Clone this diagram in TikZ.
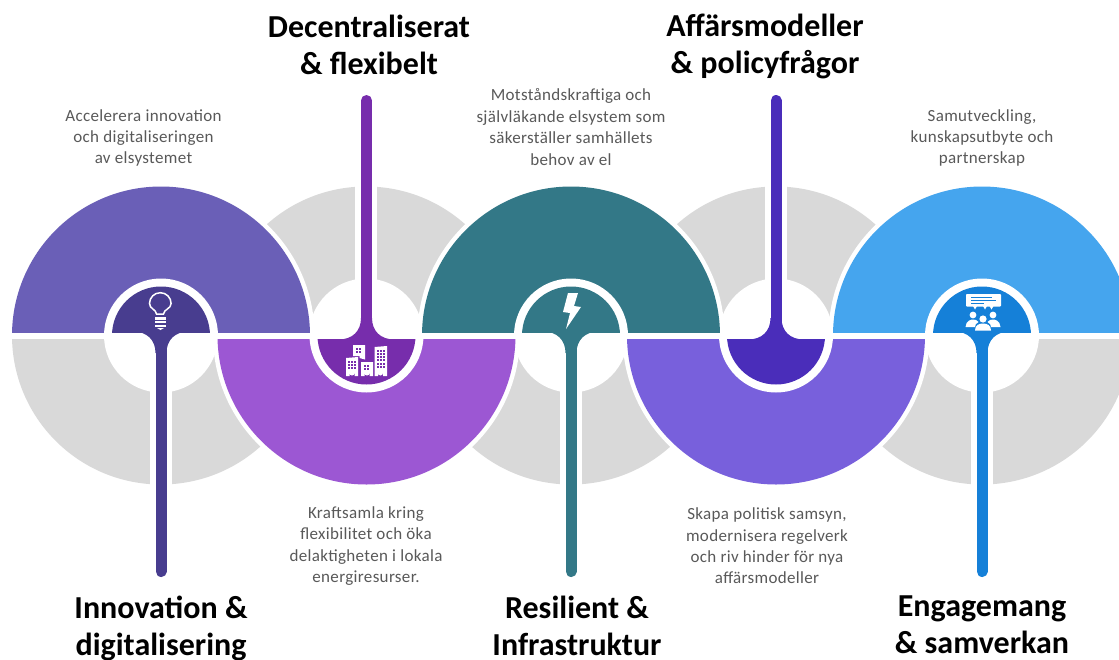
\documentclass[tikz,border=0pt]{standalone}
\usepackage{fontspec}
\setmainfont{Carlito}
\newfontfamily\descfont[LetterSpace=2]{Carlito}
\definecolor{grayband}{HTML}{D9D9D9}
\definecolor{aring}{HTML}{6A5FB7}\definecolor{adark}{HTML}{483D8F}
\definecolor{bring}{HTML}{9C57D3}\definecolor{bdark}{HTML}{772DAC}
\definecolor{cring}{HTML}{337887}\definecolor{cdark}{HTML}{337887}
\definecolor{dring}{HTML}{7860DC}\definecolor{ddark}{HTML}{4A2DBA}
\definecolor{ering}{HTML}{45A5EE}\definecolor{edark}{HTML}{1580D8}
\definecolor{bodytext}{HTML}{595959}
\tikzset{
  titletext/.style={font=\fontsize{32}{37}\selectfont\bfseries,text=black,align=center,inner sep=0pt},
  desctext/.style={font=\descfont\fontsize{17}{21.4}\selectfont,text=bodytext,align=center,inner sep=0pt},
  iconfill/.style={fill=white,draw=none}
}
\newcommand{\lowgray}[1]{%
  \begin{scope}\clip (#1-170,339) rectangle (#1+170,700);
    \fill[grayband] (#1,335.5) circle[radius=149];
    \fill[white] (#1,335.5) circle[radius=57];
  \end{scope}
  \fill[white] (#1-11,380) rectangle (#1+11,600);}
\newcommand{\upgray}[1]{%
  \begin{scope}\clip (#1-170,332) rectangle (#1+170,0);
    \fill[grayband] (#1,335.5) circle[radius=149];
    \fill[white] (#1,335.5) circle[radius=57];
  \end{scope}
  \fill[white] (#1-11,290) rectangle (#1+11,80);}
\newcommand{\upunit}[4]{%
  \begin{scope}\clip (#1-170,332) rectangle (#1+170,0);
    \fill[white] (#1,335.5) circle[radius=153.5];
    \fill[#2] (#1,335.5) circle[radius=149];
    \fill[white] (#1,335.5) circle[radius=57];
    \fill[#3] (#1,335.5) circle[radius=49];
  \end{scope}
  \fill[#3] (#1-28,331.5) .. controls (#1-14,331.5) and (#1-5.5,340) .. (#1-5.5,353)
     -- (#1+5.5,353) .. controls (#1+5.5,340) and (#1+14,331.5) .. (#1+28,331.5) -- cycle;
  \draw[#3,line width=11,line cap=round] (#1,350) -- (#1,#4-5.5);}
\newcommand{\downunit}[4]{%
  \begin{scope}\clip (#1-170,339) rectangle (#1+170,700);
    \fill[white] (#1,335.5) circle[radius=153.5];
    \fill[#2] (#1,335.5) circle[radius=149];
    \fill[white] (#1,335.5) circle[radius=57];
    \fill[#3] (#1,335.5) circle[radius=49];
  \end{scope}
  \fill[#3] (#1-28,339.5) .. controls (#1-14,339.5) and (#1-5.5,331) .. (#1-5.5,318)
     -- (#1+5.5,318) .. controls (#1+5.5,331) and (#1+14,339.5) .. (#1+28,339.5) -- cycle;
  \draw[#3,line width=11,line cap=round] (#1,321) -- (#1,#4+5.5);}
\newcommand{\windows}[5]{%
  \foreach \ci in {1,...,#3}{\foreach \ri in {1,...,#4}{
    \fill[#5] ({#1+(\ci-1)*3.1},{#2+(\ri-1)*3.3}) rectangle ++(2,2);}}}
\begin{document}
\begin{tikzpicture}[x=1pt,y=-1pt]
\useasboundingbox (0,0) rectangle (1119,659);
\fill[white] (0,0) rectangle (1119,659);
\clip (0,0) rectangle (1119,659);

\upgray{366}\upgray{776}
\lowgray{161}\lowgray{571}\lowgray{982}

\upunit{161}{aring}{adark}{577}
\downunit{366.5}{bring}{bdark}{95}
\upunit{571}{cring}{cdark}{577}
\downunit{776}{dring}{ddark}{95}
\upunit{982}{ering}{edark}{577}

% bulb
\draw[white,line width=1.5] (156.5,314) .. controls (156,309) and (149.5,309) .. (149.5,303.5)
  arc[start angle=180,end angle=0,x radius=10.8,y radius=-10.8] .. controls (171,309) and (164,309) .. (163.5,314) -- cycle;
\fill[iconfill] (154.5,317.3) rectangle (166,319.5);
\fill[iconfill] (154.5,321) rectangle (166,323.2);
\fill[iconfill] (154.5,324.7) rectangle (166,326.5);
\fill[iconfill] (157,328) -- (164,328) -- (160.5,330) -- cycle;

% buildings
\fill[iconfill] (346,358) -- (358,357) -- (358,376) -- (354.5,376) -- (354.5,373) arc[start angle=0,end angle=180,radius=2.5] -- (349.5,376) -- (346,376) -- cycle;
\fill[iconfill] (353,345) -- (365,345) -- (365,359.5) -- (359.5,358) -- (359.5,356) -- (353,356) -- cycle;
\fill[iconfill] (361,362) -- (373,362) -- (373,376) -- (369.5,376) -- (369.5,373) arc[start angle=0,end angle=180,radius=2.5] -- (364.5,376) -- (361,376) -- cycle;
\fill[iconfill] (374.5,347) -- (387,346) -- (387,376) -- (383,376) -- (383,373) arc[start angle=0,end angle=180,radius=2.5] -- (378,376) -- (374.5,376) -- cycle;
\windows{348}{360.5}{3}{3}{bdark}
\windows{356}{347.5}{2}{2}{bdark}
\windows{363.5}{364.5}{2}{2}{bdark}
\windows{377}{349.5}{3}{6}{bdark}

% lightning
\fill[iconfill] (568,293) -- (578,293) -- (574,306) -- (581,307) -- (566,329) -- (570,313) -- (563,312) -- cycle;

% speech box and people
\fill[iconfill,rounded corners=0.8] (966,294) rectangle (1001,306.5);
\foreach \tx in {975,985,991.5}{\fill[iconfill] (\tx-2,306) -- (\tx+2,306) -- (\tx,309.5) -- cycle;}
\draw[edark,line width=0.8] (971,297.5) -- (992,297.5) (971,300.5) -- (996,300.5) (971,303.5) -- (984,303.5);
\fill[iconfill] (973,315) circle[radius=3.4] (993,315) circle[radius=3.4] (983,319) circle[radius=3.6];
\fill[iconfill] (965.5,327) .. controls (966,320.5) and (971,319.5) .. (973,319.5) .. controls (975,319.5) and (977,320) .. (978.5,322) .. controls (976,323) and (975,325) .. (975,327) -- cycle;
\fill[iconfill] (1000.5,327) .. controls (1000,320.5) and (995,319.5) .. (993,319.5) .. controls (991,319.5) and (989,320) .. (987.5,322) .. controls (990,323) and (991,325) .. (991,327) -- cycle;
\fill[iconfill] (975,330.5) .. controls (975,325) and (979,323.5) .. (983,323.5) .. controls (987,323.5) and (991,325) .. (991,330.5) -- cycle;

% titles
\node[titletext] (t1) at (161,628) {Innovation \&\\digitalisering};
\node[titletext] (t2) at (369,45) {Decentraliserat\\\& flexibelt};
\node[titletext] (t3) at (577,626) {Resilient \&\\Infrastruktur};
\node[titletext] (t4) at (765,46) {Affärsmodeller\\\& policyfrågor};
\node[titletext] (t5) at (982,625) {Engagemang\\\& samverkan};

% descriptions
\node[desctext] (d1) at (143.5,138) {Accelerera innovation\\och digitaliseringen\\av elsystemet};
\node[desctext] (d2) at (366,546) {Kraftsamla kring\\flexibilitet och öka\\delaktigheten i lokala\\energiresurser.};
\node[desctext] (d3) at (571,127) {Motståndskraftiga och\\självläkande elsystem som\\säkerställer samhällets\\behov av el};
\node[desctext] (d4) at (767,546) {Skapa politisk samsyn,\\modernisera regelverk\\och riv hinder för nya\\affärsmodeller};
\node[desctext] (d5) at (982,138) {Samutveckling,\\kunskapsutbyte och\\partnerskap};
\end{tikzpicture}
\end{document}
